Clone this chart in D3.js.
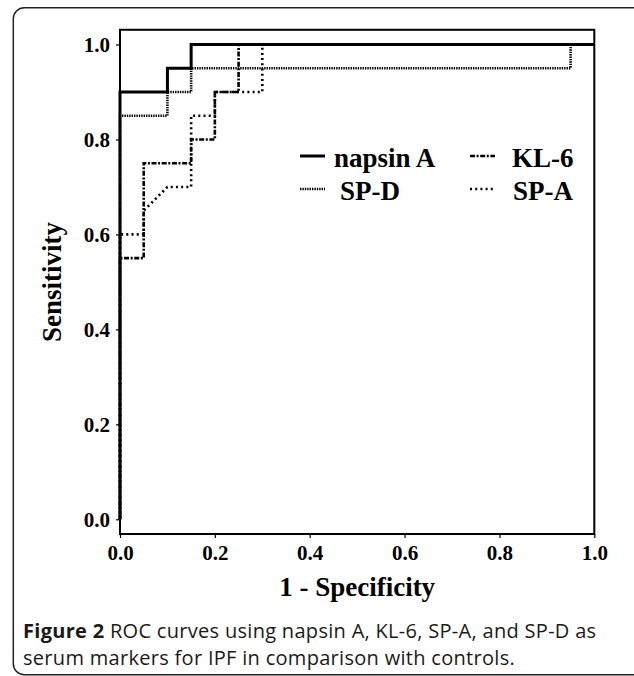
<!DOCTYPE html>
<html>
<head>
<meta charset="utf-8">
<script src="https://cdn.jsdelivr.net/npm/d3@7"></script>
<style>
  body { margin: 0; background: #fff; }
  svg { display: block; }
  .tick text { font-family: "Liberation Serif", "Times New Roman", serif; font-weight: bold; }
</style>
</head>
<body>
<div id="chart"></div>
<script>
// ROC curve vertices (1 - specificity, sensitivity)
const napsinFpr = [0, 0, 0.1, 0.1, 0.15, 0.15, 1];
const napsinTpr = [0, 0.9, 0.9, 0.95, 0.95, 1, 1];

const spdFpr = [0, 0, 0.1, 0.1, 0.15, 0.15, 0.95, 0.95, 1];
const spdTpr = [0, 0.85, 0.85, 0.9, 0.9, 0.95, 0.95, 1, 1];

const kl6Fpr = [0, 0, 0.05, 0.05, 0.15, 0.15, 0.2, 0.2, 0.25, 0.25, 1];
const kl6Tpr = [0, 0.55, 0.55, 0.75, 0.75, 0.8, 0.8, 0.9, 0.9, 1, 1];

const spaFpr = [0, 0, 0.05, 0.05, 0.1, 0.15, 0.15, 0.2, 0.2, 0.3, 0.3, 1];
const spaTpr = [0, 0.6, 0.6, 0.65, 0.7, 0.7, 0.85, 0.85, 0.9, 0.9, 1, 1];

const tickValues = [0, 0.2, 0.4, 0.6, 0.8, 1.0];
const legendNames = ['napsin A', 'KL-6', 'SP-D', 'SP-A'];

const width = 634, height = 676;
const serif = '"Liberation Serif", "Times New Roman", serif';

const series = [
    {name: 'SP-A', fpr: spaFpr, tpr: spaTpr, dash: '2,3.2', w: 2.6},
    {name: 'KL-6', fpr: kl6Fpr, tpr: kl6Tpr, dash: '5,1.6,2,1.6', w: 2.6},
    {name: 'SP-D', fpr: spdFpr, tpr: spdTpr, dash: '1.4,1', w: 2.6},
    {name: 'napsin A', fpr: napsinFpr, tpr: napsinTpr, dash: null, w: 3}
];

const svg = d3.select('#chart').append('svg')
    .attr('width', width)
    .attr('height', height);

// outer figure box
svg.append('rect')
    .attr('x', 13.3).attr('y', 7.7)
    .attr('width', 640).attr('height', 667)
    .attr('rx', 11).attr('ry', 11)
    .attr('fill', 'none')
    .attr('stroke', '#222')
    .attr('stroke-width', 1.5);

const x = d3.scaleLinear().domain([0, 1]).range([120, 594.3]);
const y = d3.scaleLinear().domain([0, 1]).range([519.3, 44.5]);

const frameTop = y(1.031), frameBottom = y(-0.031);

// axes
const yAxis = svg.append('g')
    .attr('transform', `translate(${x(0)},0)`)
    .call(d3.axisLeft(y).tickValues(tickValues).tickFormat(d3.format('.1f')).tickSize(4).tickPadding(6));
yAxis.select('.domain').remove();
yAxis.selectAll('.tick line').attr('stroke', '#000').attr('stroke-width', 1.2);
yAxis.selectAll('.tick text').attr('font-size', 21).attr('fill', '#000');

const xAxis = svg.append('g')
    .attr('transform', `translate(0,${frameBottom})`)
    .call(d3.axisBottom(x).tickValues(tickValues).tickFormat(d3.format('.1f')).tickSize(4).tickPadding(7));
xAxis.select('.domain').remove();
xAxis.selectAll('.tick line').attr('stroke', '#000').attr('stroke-width', 1.2);
xAxis.selectAll('.tick text').attr('font-size', 21).attr('fill', '#000');

// curves
const line = d3.line()
    .x(d => x(d[0]))
    .y(d => y(d[1]));

svg.append('g')
    .selectAll('path')
    .data(series)
    .join('path')
    .attr('d', s => line(s.fpr.map((f, i) => [f, s.tpr[i]])))
    .attr('fill', 'none')
    .attr('stroke', '#000')
    .attr('stroke-width', s => s.w)
    .attr('stroke-dasharray', s => s.dash);

// plot frame
svg.append('rect')
    .attr('x', x(0)).attr('y', frameTop)
    .attr('width', x(1) - x(0)).attr('height', frameBottom - frameTop)
    .attr('fill', 'none')
    .attr('stroke', '#000')
    .attr('stroke-width', 2);

// legend
const legendPos = [
    {lx: 300, tx: 334, ty: 167},
    {lx: 470, tx: 512, ty: 167},
    {lx: 300, tx: 340, ty: 200},
    {lx: 470, tx: 513, ty: 200}
];
const legend = svg.append('g')
    .selectAll('g')
    .data(legendNames)
    .join('g');

legend.append('line')
    .attr('x1', (d, i) => legendPos[i].lx)
    .attr('x2', (d, i) => legendPos[i].lx + 25)
    .attr('y1', (d, i) => legendPos[i].ty - 11)
    .attr('y2', (d, i) => legendPos[i].ty - 11)
    .attr('stroke', '#000')
    .attr('stroke-width', d => series.find(s => s.name == d).w)
    .attr('stroke-dasharray', d => series.find(s => s.name == d).dash);

legend.append('text')
    .attr('x', (d, i) => legendPos[i].tx)
    .attr('y', (d, i) => legendPos[i].ty)
    .attr('font-family', serif)
    .attr('font-weight', 'bold')
    .attr('font-size', 27)
    .text(d => d);

// axis titles
svg.append('text')
    .attr('x', (x(0) + x(1)) / 2)
    .attr('y', 596)
    .attr('text-anchor', 'middle')
    .attr('font-family', serif)
    .attr('font-weight', 'bold')
    .attr('font-size', 27)
    .text('1 - Specificity');

svg.append('text')
    .attr('transform', `translate(61,${(frameTop + frameBottom) / 2}) rotate(-90)`)
    .attr('text-anchor', 'middle')
    .attr('font-family', serif)
    .attr('font-weight', 'bold')
    .attr('font-size', 27)
    .text('Sensitivity');

// caption
const caption = svg.append('text')
    .attr('font-family', '"Open Sans", "Noto Sans", sans-serif')
    .attr('font-size', 20)
    .attr('letter-spacing', 0.3)
    .attr('fill', '#1a1a1a');
const c1 = caption.append('tspan').attr('x', 23).attr('y', 638);
c1.append('tspan').attr('font-weight', 'bold').text('Figure 2');
c1.append('tspan').text(' ROC curves using napsin A, KL-6, SP-A, and SP-D as');
caption.append('tspan').attr('x', 23).attr('y', 665)
    .text('serum markers for IPF in comparison with controls.');
</script>
</body>
</html>
